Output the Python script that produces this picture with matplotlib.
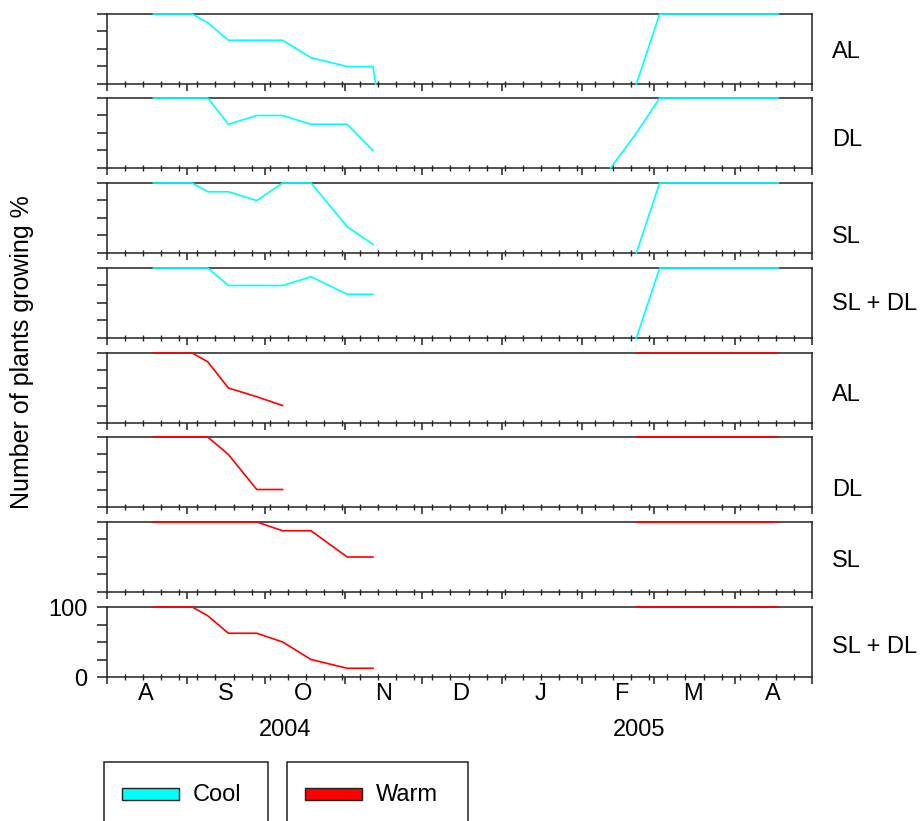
import matplotlib
matplotlib.use('Agg')
import matplotlib.pyplot as plt
import matplotlib.transforms as mtransforms
from matplotlib.patches import Rectangle
import numpy as np

plt.rcParams['font.family'] = ['Liberation Sans', 'DejaVu Sans']

# sampling dates
autumn_dates = np.array(['2004-08-19', '2004-09-03', '2004-09-09', '2004-09-17', '2004-09-28',
                         '2004-10-08', '2004-10-19', '2004-11-02', '2004-11-12'], dtype='datetime64[D]')
spring_dates = np.array(['2005-02-22', '2005-03-03', '2005-04-18'], dtype='datetime64[D]')
spring_dates_dl = np.array(['2005-02-12', '2005-02-22', '2005-03-03', '2005-04-18'], dtype='datetime64[D]')
al_drop_date = np.array(['2004-11-13'], dtype='datetime64[D]')

# Cool (% growing)
cool_al = [100, 100, 87.5, 62.5, 62.5, 62.5, 37.5, 25, 25]
cool_dl = [100, 100, 100, 62.5, 75, 75, 62.5, 62.5, 25]
cool_sl = [100, 100, 87.5, 87.5, 75, 100, 100, 37.5, 12.5]
cool_sldl = [100, 100, 100, 75, 75, 75, 87.5, 62.5, 62.5]
cool_al_spring = [0, 100, 100]
cool_dl_spring = [0, 50, 100, 100]
cool_sl_spring = [0, 100, 100]
cool_sldl_spring = [0, 100, 100]

# Warm (% growing)
warm_al = [100, 100, 87.5, 50, 37.5, 25]
warm_dl = [100, 100, 100, 75, 25, 25]
warm_sl = [100, 100, 100, 100, 100, 87.5, 87.5, 50, 50]
warm_sldl = [100, 100, 87.5, 62.5, 62.5, 50, 25, 12.5, 12.5]
warm_spring = [100, 100, 100]

panel_names = ['AL', 'DL', 'SL', 'SL + DL', 'AL', 'DL', 'SL', 'SL + DL']
month_labels = ['A', 'S', 'O', 'N', 'D', 'J', 'F', 'M', 'A']
year_labels = ['2004', '2005']

cool_c = '#00FFFF'
warm_c = '#FF0000'

panels = [
    (cool_c, [(np.concatenate([autumn_dates, al_drop_date]), cool_al + [0]), (spring_dates, cool_al_spring)]),
    (cool_c, [(autumn_dates, cool_dl), (spring_dates_dl, cool_dl_spring)]),
    (cool_c, [(autumn_dates, cool_sl), (spring_dates, cool_sl_spring)]),
    (cool_c, [(autumn_dates, cool_sldl), (spring_dates, cool_sldl_spring)]),
    (warm_c, [(autumn_dates[:6], warm_al), (spring_dates, warm_spring)]),
    (warm_c, [(autumn_dates[:6], warm_dl), (spring_dates, warm_spring)]),
    (warm_c, [(autumn_dates, warm_sl), (spring_dates, warm_spring)]),
    (warm_c, [(autumn_dates, warm_sldl), (spring_dates, warm_spring)]),
]

W, H = 921, 821
fig = plt.figure(figsize=(W / 100, H / 100), dpi=100)

def fx(px):
    return px / W

def fy(py):
    return 1 - py / H

x0, x1 = np.datetime64('2004-08-01'), np.datetime64('2005-05-01')
month_starts = np.arange(np.datetime64('2004-08'), np.datetime64('2005-06'), dtype='datetime64[M]').astype('datetime64[D]')
week_ticks = np.arange(x0, x1, 7)
mid_months = month_starts[:-1] + 15

tops = [14, 98, 183, 268, 353, 437, 522, 607]
label_y = [52, 140, 237, 304, 395, 490, 561, 647]
ph = 70
spine_c = '#222222'

for i, (color, series) in enumerate(panels):
    top = tops[i]
    ax = fig.add_axes([fx(107), fy(top + ph), fx(812) - fx(107), ph / H])
    for d, v in series:
        ax.plot(d, v, color=color, lw=1.2, clip_on=False, zorder=5)
    ax.set_xlim(x0, x1)
    ax.set_ylim(0, 100)
    for s in ax.spines.values():
        s.set_color(spine_c)
        s.set_linewidth(1.1)
    ax.set_yticks([0, 25, 50, 75, 100])
    ax.tick_params(axis='y', direction='out', length=7, width=1.1, color=spine_c, pad=7, labelsize=17)
    if i == len(panels) - 1:
        ax.set_yticklabels(['0', '', '', '', '100'])
    else:
        ax.set_yticklabels([])
    ax.set_xticks(month_starts)
    ax.set_xticks(week_ticks, minor=True)
    ax.set_xticklabels([])
    ax.tick_params(axis='x', which='major', direction='out', length=5, width=1.1, color=spine_c)
    ax.tick_params(axis='x', which='minor', direction='inout', length=4, width=1.0, color=spine_c)
    fig.text(fx(832), fy(label_y[i]), panel_names[i], fontsize=17, ha='left', va='center')
    if i == len(panels) - 1:
        trans = mtransforms.blended_transform_factory(ax.transData, ax.transAxes)
        for d, lab in zip(mid_months, month_labels):
            ax.text(d, -17 / ph, lab, transform=trans, fontsize=17, ha='center', va='center')

fig.text(fx(285), fy(730), year_labels[0], fontsize=17, ha='center', va='center')
fig.text(fx(639), fy(730), year_labels[1], fontsize=17, ha='center', va='center')
fig.text(fx(22), fy(352), 'Number of plants growing %', fontsize=18, rotation=90, ha='center', va='center')

# legend boxes
for bx0, bx1, color, lab in [(104, 268, cool_c, 'Cool'), (287, 468, warm_c, 'Warm')]:
    fig.patches.append(Rectangle((fx(bx0), fy(830)), fx(bx1) - fx(bx0), fy(762) - fy(830),
                                 transform=fig.transFigure, fill=False, ec=spine_c, lw=1.1))
    fig.patches.append(Rectangle((fx(bx0 + 18), fy(800)), 57 / W, 12 / H,
                                 transform=fig.transFigure, fc=color, ec='#222222', lw=1.0))
    fig.text(fx(bx0 + 89), fy(795), lab, fontsize=17, ha='left', va='center')

fig.savefig('out.png', dpi=100)
